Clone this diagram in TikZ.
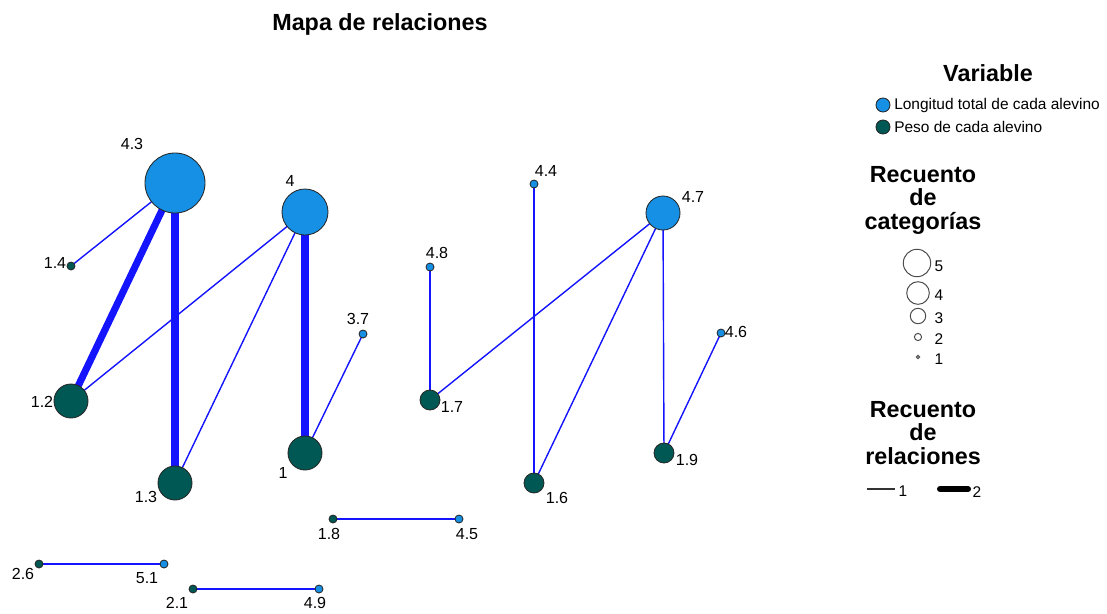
\documentclass[tikz,border=0pt]{standalone}
\usepackage{fontspec}
\setmainfont{Liberation Sans}
\usetikzlibrary{backgrounds}
\definecolor{longitud}{RGB}{22,144,228}
\definecolor{peso}{RGB}{0,88,84}
\definecolor{enlace}{RGB}{20,20,255}

\begin{document}
\begin{tikzpicture}[x=0.025cm,y=-0.025cm,
  punto/.style={circle,draw=black!85,line width=0.6pt,inner sep=0pt},
  lon/.style={punto,fill=longitud},
  pes/.style={punto,fill=peso},
  c5/.style={minimum size=1.5cm},
  c4/.style={minimum size=1.15cm},
  c3/.style={minimum size=0.85cm},
  c2/.style={minimum size=0.5cm},
  c1/.style={minimum size=0.2cm},
  etq/.style={inner sep=0pt,font=\fontsize{11.4}{13}\selectfont},
  rel/.style={enlace,line width=1pt},
  rel2/.style={enlace,line width=5pt},
  titulo/.style={inner sep=0pt,align=center,font=\fontsize{16.6}{16.7}\selectfont\bfseries},
  ley/.style={circle,draw=black!70,line width=0.7pt,fill=white,inner sep=0pt}]
\useasboundingbox (0,0) rectangle (1107,613);

\node[titulo] (tit) at (380,24) {Mapa de relaciones};

% nodos
\node[lon,c5] (n43) at (175,183) {};
\node[lon,c4] (n4) at (305,212) {};
\node[lon,c3] (n47) at (663,213) {};
\node[lon,c1] (n44) at (534,184) {};
\node[lon,c1] (n48) at (430,267) {};
\node[lon,c1] (n37) at (363,334) {};
\node[lon,c1] (n46) at (721,333) {};
\node[lon,c1] (n45) at (459,519) {};
\node[lon,c1] (n51) at (164,564) {};
\node[lon,c1] (n49) at (319,589) {};
\node[pes,c1] (n14) at (71,266) {};
\node[pes,c3] (n12) at (71,401) {};
\node[pes,c3] (n13) at (175,483) {};
\node[pes,c3] (n1) at (305,453) {};
\node[pes,c2] (n17) at (430,400) {};
\node[pes,c2] (n16) at (534,483) {};
\node[pes,c2] (n19) at (664,453) {};
\node[pes,c1] (n18) at (333,519) {};
\node[pes,c1] (n26) at (39,564) {};
\node[pes,c1] (n21) at (193,589) {};

\node[etq] (e43) at (132,144) {4.3};
\node[etq] (e4) at (290,181) {4};
\node[etq] (e47) at (693,197) {4.7};
\node[etq] (e44) at (546,171) {4.4};
\node[etq] (e48) at (437,253) {4.8};
\node[etq] (e37) at (358,319) {3.7};
\node[etq] (e46) at (736,332) {4.6};
\node[etq] (e45) at (467,534) {4.5};
\node[etq] (e51) at (147,578) {5.1};
\node[etq] (e49) at (315,603) {4.9};
\node[etq] (e14) at (55,263) {1.4};
\node[etq] (e12) at (42,402) {1.2};
\node[etq] (e13) at (146,497) {1.3};
\node[etq] (e1) at (283,473) {1};
\node[etq] (e17) at (452,407) {1.7};
\node[etq] (e16) at (557,498) {1.6};
\node[etq] (e19) at (687,460) {1.9};
\node[etq] (e18) at (329,534) {1.8};
\node[etq] (e26) at (23,574) {2.6};
\node[etq] (e21) at (177,603) {2.1};

% relaciones
\begin{scope}[on background layer]
\draw[rel2] (n43.center) -- (n12.center);
\draw[rel2] (n43.center) -- (n13.center);
\draw[rel2] (n4.center) -- (n1.center);
\draw[rel] (n43.center) -- (n14.center);
\draw[rel] (n4.center) -- (n12.center);
\draw[rel] (n4.center) -- (n13.center);
\draw[rel] (n37.center) -- (n1.center);
\draw[rel] (n48.center) -- (n17.center);
\draw[rel] (n47.center) -- (n17.center);
\draw[rel] (n44.center) -- (n16.center);
\draw[rel] (n47.center) -- (n16.center);
\draw[rel] (n47.center) -- (n19.center);
\draw[rel] (n46.center) -- (n19.center);
\draw[rel] (n18.center) -- (n45.center);
\draw[rel] (n26.center) -- (n51.center);
\draw[rel] (n21.center) -- (n49.center);
\end{scope}

% leyenda
\node[titulo] (tvar) at (988,73) {Variable};
\node[lon,minimum size=0.35cm] (vlon) at (883,105) {};
\node[pes,minimum size=0.35cm] (vpes) at (883,127) {};
\node[etq,anchor=west,font=\fontsize{11}{13}\selectfont] (tlon) at (894,105) {Longitud total de cada alevino};
\node[etq,anchor=west,font=\fontsize{11}{13}\selectfont] (tpes) at (894,127) {Peso de cada alevino};

\node[titulo] (tcat) at (923,200) {Recuento\\de\\categorías};
\node[ley,minimum size=0.685cm] (k5) at (917,263) {};
\node[ley,minimum size=0.565cm] (k4) at (918,293) {};
\node[ley,minimum size=0.385cm] (k3) at (918,316) {};
\node[ley,minimum size=0.18cm] (k2) at (918,337) {};
\node[ley,minimum size=0.08cm] (k1) at (918,357) {};
\node[etq,font=\fontsize{11}{13}\selectfont] (t5) at (939,266) {5};
\node[etq,font=\fontsize{11}{13}\selectfont] (t4) at (939,295) {4};
\node[etq,font=\fontsize{11}{13}\selectfont] (t3) at (939,318) {3};
\node[etq,font=\fontsize{11}{13}\selectfont] (t2) at (939,339) {2};
\node[etq,font=\fontsize{11}{13}\selectfont] (t1) at (939,359) {1};

\node[titulo] (trel) at (923,433) {Recuento\\de\\relaciones};
\coordinate (r1a) at (867,489);
\coordinate (r1b) at (895,489);
\coordinate (r2a) at (940,489);
\coordinate (r2b) at (968,489);
\draw[black!80,line width=0.8pt] (r1a) -- (r1b);
\draw[black,line width=4.3pt,line cap=round] (r2a) -- (r2b);
\node[etq,font=\fontsize{11}{13}\selectfont] (tr1) at (903,491) {1};
\node[etq,font=\fontsize{11}{13}\selectfont] (tr2) at (977,492) {2};
\end{tikzpicture}
\end{document}
